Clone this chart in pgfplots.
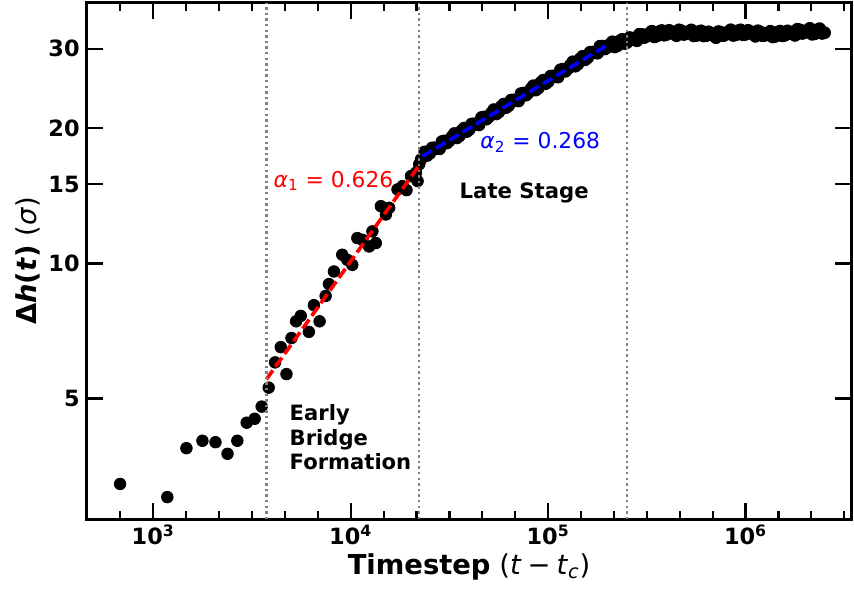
\documentclass[border=0pt]{standalone}
\usepackage{fontspec}
\setmainfont{DejaVu Sans}
\usepackage{pgfplots}
\usepackage{pgfplotstable}
\pgfplotsset{compat=1.18}
\pgfplotstableread{
x y
679 3.23
1178 3.02
1472 3.88
1774 4.03
2065 4.00
2377 3.77
2665 4.03
2972 4.42
3262 4.51
3540 4.80
3842 5.29
4138 6.02
4423 6.51
4727 5.67
5012 6.82
5289 7.43
5585 7.64
6138 7.04
6508 8.07
6958 7.43
7464 8.46
7756 8.99
8222 9.59
9057 10.45
9610 10.18
10186 9.92
10804 11.38
11455 11.28
12390 10.90
12880 11.78
13400 11.09
14210 13.40
15070 12.84
15660 13.29
17260 14.60
18300 14.85
19170 14.55
20190 15.63
21410 15.91
21810 15.24
22230 16.61
22700 17.03
}\early
\pgfplotstableread{
x y
23714 17.69
25119 17.56
26607 18.07
28184 17.98
29854 18.72
31623 18.75
33497 19.44
35481 19.20
37584 19.99
39811 19.84
42170 20.43
44668 20.32
47315 21.16
50119 21.19
53088 21.97
56234 21.70
59566 22.60
63096 22.43
66834 23.09
70795 22.97
74989 23.92
79433 23.96
84140 24.83
89125 24.53
94406 25.54
100000 25.35
105930 26.10
112200 25.96
118850 27.03
125890 27.08
133350 28.07
141250 27.73
149620 28.87
158490 28.66
167880 29.50
177830 29.34
188360 30.42
199530 30.23
211350 31.10
223870 30.47
237140 31.49
251190 31.00
266070 31.68
281840 31.27
298540 32.30
316230 32.01
334970 32.83
354810 32.03
375840 32.95
398110 32.29
421700 32.76
446680 32.09
473150 32.91
501190 32.43
530880 33.05
562340 32.11
595660 32.89
630960 32.09
668340 32.48
707950 31.77
749890 32.64
794330 32.30
841400 33.08
891250 32.23
944060 33.06
1000000 32.31
1059300 32.76
1122000 31.99
1188500 32.71
1258900 32.17
1333500 32.83
1412500 31.97
1496200 32.85
1584900 32.17
1678800 32.71
1778300 32.14
1883600 33.06
1995300 32.62
2113500 33.31
2238700 32.40
2371400 33.26
2511900 32.58
}\late
\pgfplotstableread{
x y
24406 17.38
25852 18.06
27384 18.00
29007 18.66
30726 18.52
32547 19.11
34475 19.01
36517 19.75
38682 19.64
40973 20.41
43401 20.35
45972 21.10
48697 20.93
51582 21.60
54638 21.49
57876 22.33
61305 22.21
64938 23.07
68786 23.00
72862 23.85
77179 23.66
81752 24.42
86597 24.29
91728 25.24
97163 25.10
102920 26.08
109020 26.00
115480 26.95
122320 26.74
129570 27.60
137240 27.45
145380 28.52
153990 28.37
163120 29.48
172780 29.39
183030 30.40
193860 29.98
205360 30.70
217520 30.29
230410 31.23
244070 30.82
258530 31.78
273840 31.44
290070 32.34
307260 31.79
325470 32.45
344750 31.90
365180 32.74
386820 32.17
409730 32.98
434010 32.38
459720 33.06
486970 32.29
515820 32.78
546390 32.06
578770 32.76
613050 32.04
649380 32.73
687860 32.09
728630 32.77
771790 32.10
817520 32.73
865970 32.13
917280 32.91
971630 32.23
1029200 32.98
1090200 32.33
1154800 32.91
1223200 32.07
1295700 32.53
1372400 31.88
1453800 32.67
1539900 32.06
1631200 32.89
1727800 32.38
1830200 33.16
1938600 32.46
2053600 33.00
2175200 32.32
2304100 33.07
2440600 32.47
}\latemid
\begin{document}
\begin{tikzpicture}
\path[use as bounding box] (-43.35pt,-34.35pt) rectangle (383.65pt,259.65pt);
\begin{axis}[
  at={(0,0)}, anchor=south west,
  scale only axis, width=382.4pt, height=258.3pt,
  xmode=log, ymode=log,
  xmin=460, xmax=3.44e6, ymin=2.695, ymax=38,
  clip marker paths=true,
  axis line style={line width=1.5pt},
  tick align=inside, tick pos=both,
  major tick length=8.3pt, minor tick length=4.2pt,
  major tick style={black, line width=1.2pt},
  minor tick style={black, line width=1.1pt},
  xtick={1000,10000,100000,1000000},
  xticklabels={10\textsuperscript{3},10\textsuperscript{4},10\textsuperscript{5},10\textsuperscript{6}},
  minor xtick={681.29,1467.8,2154.4,3162.3,4641.6,6812.9,14678,21544,31623,46416,68129,146780,215440,316230,464160,681290,1467800,2154400,3162300},
  ytick={5,10,15,20,30}, yticklabels={5,10,15,20,30},
  minor ytick={},
  tick label style={font=\fontsize{11.2}{13}\selectfont\bfseries},
  xticklabel style={anchor=base, yshift=-12.5pt},
  xlabel={{\bfseries Timestep} (\textit{t}\hspace{0.22em}−\hspace{0.22em}\textit{t}\textsubscript{\textit{c}})},
  ylabel={{\bfseries Δ\textit{h}(\textit{t})} (\textit{σ})},
  label style={font=\fontsize{13.7}{16}\selectfont},
  xlabel style={at={(axis description cs:0.5,0)}, anchor=base, yshift=-27.35pt},
  ylabel style={at={(axis description cs:-0.0654,0.5)}, anchor=base, rotate=0},
]
\addplot[only marks, mark=*, mark size=2.9pt, black] table[x=x,y=y]{\early};
\addplot[only marks, mark=*, mark size=3pt, black] table[x=x,y=y]{\late};
\addplot[only marks, mark=*, mark size=3pt, black] table[x=x,y=y]{\latemid};
\addplot[red, line width=1.8pt, dash pattern=on 5.5pt off 2.3pt] coordinates {(3740,5.52) (22200,16.5)};
\addplot[blue, line width=1.8pt, dash pattern=on 5.5pt off 2.3pt] coordinates {(23100,17.3) (205000,30.8)};
\addplot[gray, line width=1.2pt, dash pattern=on 1.2pt off 1.6pt] coordinates {(3740,2.695) (3740,38)};
\addplot[gray, line width=1.2pt, dash pattern=on 1.2pt off 1.6pt] coordinates {(22200,2.695) (22200,38)};
\addplot[gray, line width=1.2pt, dash pattern=on 1.2pt off 1.6pt] coordinates {(250000,2.695) (250000,38)};
\node[anchor=base west, inner sep=0, red, font=\fontsize{10.9}{12}\selectfont] at (axis cs:4055,14.76) {\textit{α}\textsubscript{1} = 0.626};
\node[anchor=base west, inner sep=0, blue, font=\fontsize{10.9}{12}\selectfont] at (axis cs:45190,17.96) {\textit{α}\textsubscript{2} = 0.268};
\node[anchor=base west, inner sep=0, font=\fontsize{10.6}{12}\selectfont\bfseries] at (axis cs:35480,13.95) {Late Stage};
\node[anchor=base west, inner sep=0, font=\fontsize{10.55}{12}\selectfont\bfseries] at (axis cs:4887,4.481) {Early};
\node[anchor=base west, inner sep=0, font=\fontsize{10.55}{12}\selectfont\bfseries] at (axis cs:4887,3.943) {Bridge};
\node[anchor=base west, inner sep=0, font=\fontsize{10.55}{12}\selectfont\bfseries] at (axis cs:4887,3.486) {Formation};
\end{axis}
\end{tikzpicture}
\end{document}
